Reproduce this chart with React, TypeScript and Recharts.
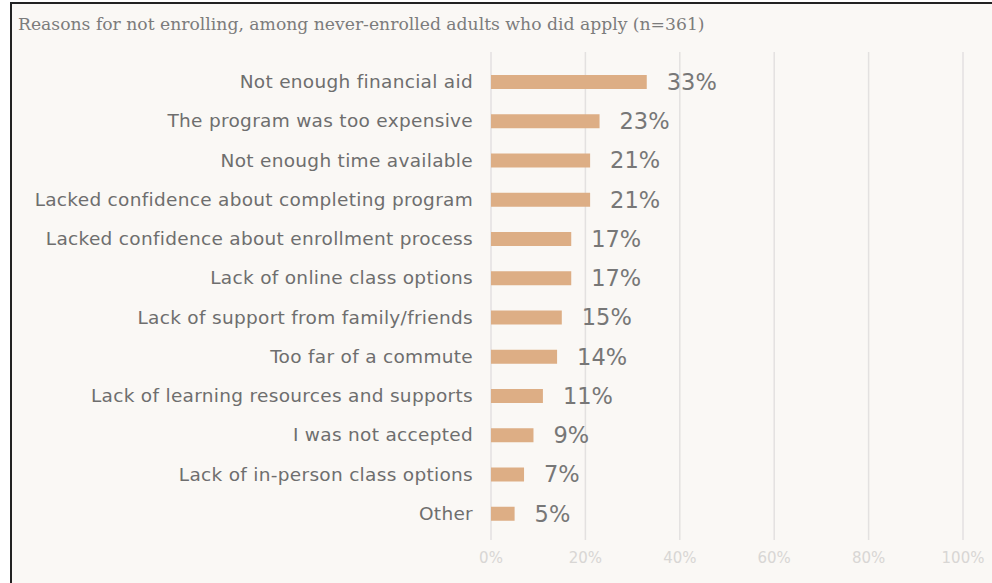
import React from "react";
import {
  BarChart,
  Bar,
  XAxis,
  YAxis,
  CartesianGrid,
  LabelList,
} from "recharts";

const TITLE =
  "Reasons for not enrolling, among never-enrolled adults who did apply (n=361)";

const REASONS = [
  "Not enough financial aid",
  "The program was too expensive",
  "Not enough time available",
  "Lacked confidence about completing program",
  "Lacked confidence about enrollment process",
  "Lack of online class options",
  "Lack of support from family/friends",
  "Too far of a commute",
  "Lack of learning resources and supports",
  "I was not accepted",
  "Lack of in-person class options",
  "Other",
];

const SHARES = [33, 23, 21, 21, 17, 17, 15, 14, 11, 9, 7, 5];

const X_TICKS = [0, 20, 40, 60, 80, 100];

const DATA = REASONS.map((reason, index) => {
  return { name: reason, value: SHARES[index] };
});

const SANS = "'DejaVu Sans', sans-serif";

export default function App() {
  return (
    <div
      style={{
        position: "absolute",
        left: 0,
        top: 0,
        width: 992,
        height: 583,
        overflow: "hidden",
        background: "#ffffff",
      }}
    >
      <div
        style={{
          position: "absolute",
          left: 10,
          top: 2,
          width: 1000,
          height: 600,
          border: "2px solid #222",
          background: "#faf8f5",
        }}
      >
        <div
          style={{
            position: "absolute",
            left: 6,
            top: 10,
            fontFamily: "'DejaVu Serif', serif",
            fontSize: 17.2,
            lineHeight: "20px",
            color: "#7c7c7c",
            whiteSpace: "nowrap",
          }}
        >
          {TITLE}
        </div>
        <BarChart
          width={980}
          height={575}
          data={DATA}
          layout="vertical"
          margin={{ top: 48, right: 29, left: 0, bottom: 9 }}
          barSize={14}
        >
          <CartesianGrid
            horizontal={false}
            stroke="#e3e1e0"
            strokeWidth={1.5}
          />
          <XAxis
            type="number"
            domain={[0, 100]}
            ticks={X_TICKS}
            tickFormatter={(v) => `${v}%`}
            axisLine={false}
            tickLine={false}
            tickSize={0}
            tickMargin={12}
            height={30}
            tick={{ fill: "#d8d6d4", fontSize: 15, fontFamily: SANS }}
          />
          <YAxis
            type="category"
            dataKey="name"
            width={479}
            axisLine={false}
            tickLine={false}
            tickSize={0}
            tickMargin={18}
            padding={{ top: 10, bottom: 7 }}
            interval={0}
            tick={{
              fill: "#6e6e6e",
              fontSize: 18.5,
              fontFamily: SANS,
              letterSpacing: 0.3,
            }}
          />
          <Bar dataKey="value" fill="#ddae85" isAnimationActive={false}>
            <LabelList
              dataKey="value"
              position="right"
              offset={20}
              formatter={(v: number) => `${v}%`}
              fill="#777"
              fontSize={22.5}
              fontFamily={SANS}
            />
          </Bar>
        </BarChart>
      </div>
    </div>
  );
}
